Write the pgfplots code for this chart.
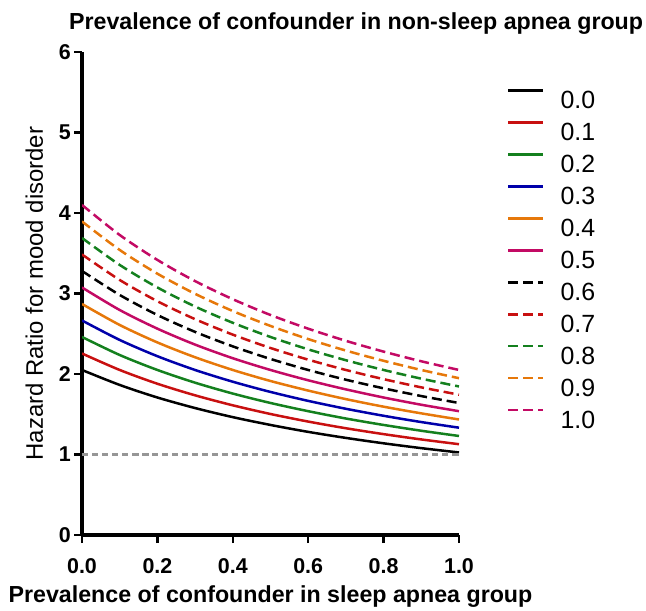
\documentclass[border=0pt]{standalone}
\usepackage{pgfplots}
\pgfplotsset{compat=1.18}
\usepackage{fontspec}
\setmainfont{Liberation Sans}
\definecolor{cRed}{RGB}{200,16,16}
\definecolor{cGreen}{RGB}{20,128,30}
\definecolor{cBlue}{RGB}{0,0,170}
\definecolor{cOrange}{RGB}{230,120,10}
\definecolor{cMag}{RGB}{195,10,100}
\definecolor{cGray}{RGB}{150,150,150}
\begin{document}
\begin{tikzpicture}
\begin{axis}[
  at={(82bp,76bp)}, anchor=south west,
  scale only axis, width=377bp, height=483bp,
  xmin=0, xmax=1, ymin=0, ymax=6,
  axis lines*=left,
  axis line style={line width=3bp},
  tick align=outside,
  major tick length=8bp,
  major tick style={line width=2.5bp, black},
  xtick={0,0.2,0.4,0.6,0.8,1.0},
  ytick={0,1,2,3,4,5,6},
  xticklabels={0.0,0.2,0.4,0.6,0.8,1.0},
  /pgf/number format/assume math mode=true,
  ticklabel style={font=\fontsize{21.5}{26}\selectfont\bfseries},
  xticklabel style={inner sep=1bp, yshift=-14bp},
  yticklabel style={inner sep=1bp, xshift=-2bp},
  title={Prevalence of confounder in non-sleep apnea group},
  title style={at={(rel axis cs:0.727,1)}, anchor=base, yshift=17bp, font=\fontsize{23.3}{27}\selectfont\bfseries},
  xlabel={Prevalence of confounder in sleep apnea group},
  every axis x label/.style={at={(rel axis cs:0.5,0)}, anchor=base, yshift=-67bp, font=\fontsize{23.3}{27}\selectfont\bfseries},
  ylabel={Hazard Ratio for mood disorder},
  every axis y label/.style={at={(rel axis cs:0,0.5)}, xshift=-39bp, rotate=90, anchor=base, font=\fontsize{24}{28}\selectfont},
  legend image code/.code={\draw[#1] (0bp,9bp) -- (35bp,9bp);},
  legend cell align=left,
  legend style={at={(rel axis cs:1.127,0.923)}, anchor=north west, draw=none, fill=none,
    inner sep=0pt, row sep=12.7bp, font=\fontsize{25}{30}\selectfont,
    nodes={inner sep=0pt, text height=18bp, text depth=0pt},
    /tikz/every odd column/.append style={column sep=16bp}},
  every axis plot/.append style={line width=2.5bp, smooth},
]
\addplot[black] coordinates {(0,2.050) (0.1,1.864) (0.2,1.708) (0.3,1.577) (0.4,1.464) (0.5,1.367) (0.6,1.281) (0.7,1.206) (0.8,1.139) (0.9,1.079) (1.0,1.025)};
\addlegendentry{0.0}
\addplot[cRed] coordinates {(0,2.255) (0.1,2.050) (0.2,1.879) (0.3,1.735) (0.4,1.611) (0.5,1.503) (0.6,1.409) (0.7,1.326) (0.8,1.253) (0.9,1.187) (1.0,1.128)};
\addlegendentry{0.1}
\addplot[cGreen] coordinates {(0,2.460) (0.1,2.236) (0.2,2.050) (0.3,1.892) (0.4,1.757) (0.5,1.640) (0.6,1.538) (0.7,1.447) (0.8,1.367) (0.9,1.295) (1.0,1.230)};
\addlegendentry{0.2}
\addplot[cBlue] coordinates {(0,2.665) (0.1,2.423) (0.2,2.221) (0.3,2.050) (0.4,1.904) (0.5,1.777) (0.6,1.666) (0.7,1.568) (0.8,1.481) (0.9,1.403) (1.0,1.333)};
\addlegendentry{0.3}
\addplot[cOrange] coordinates {(0,2.870) (0.1,2.609) (0.2,2.392) (0.3,2.208) (0.4,2.050) (0.5,1.913) (0.6,1.794) (0.7,1.688) (0.8,1.594) (0.9,1.511) (1.0,1.435)};
\addlegendentry{0.4}
\addplot[cMag] coordinates {(0,3.075) (0.1,2.795) (0.2,2.563) (0.3,2.365) (0.4,2.196) (0.5,2.050) (0.6,1.922) (0.7,1.809) (0.8,1.708) (0.9,1.618) (1.0,1.538)};
\addlegendentry{0.5}
\addplot[black, dash pattern=on 10bp off 5bp] coordinates {(0,3.280) (0.1,2.982) (0.2,2.733) (0.3,2.523) (0.4,2.343) (0.5,2.187) (0.6,2.050) (0.7,1.929) (0.8,1.822) (0.9,1.726) (1.0,1.640)};
\addlegendentry{0.6}
\addplot[cRed, dash pattern=on 10bp off 5bp] coordinates {(0,3.485) (0.1,3.168) (0.2,2.904) (0.3,2.681) (0.4,2.489) (0.5,2.323) (0.6,2.178) (0.7,2.050) (0.8,1.936) (0.9,1.834) (1.0,1.743)};
\addlegendentry{0.7}
\addplot[cGreen, dash pattern=on 10bp off 5bp] coordinates {(0,3.690) (0.1,3.355) (0.2,3.075) (0.3,2.838) (0.4,2.636) (0.5,2.460) (0.6,2.306) (0.7,2.171) (0.8,2.050) (0.9,1.942) (1.0,1.845)};
\addlegendentry{0.8}
\addplot[cOrange, dash pattern=on 10bp off 5bp] coordinates {(0,3.895) (0.1,3.541) (0.2,3.246) (0.3,2.996) (0.4,2.782) (0.5,2.597) (0.6,2.434) (0.7,2.291) (0.8,2.164) (0.9,2.050) (1.0,1.948)};
\addlegendentry{0.9}
\addplot[cMag, dash pattern=on 10bp off 5bp] coordinates {(0,4.100) (0.1,3.727) (0.2,3.417) (0.3,3.154) (0.4,2.929) (0.5,2.733) (0.6,2.563) (0.7,2.412) (0.8,2.278) (0.9,2.158) (1.0,2.050)};
\addlegendentry{1.0}
\addplot[cGray, line width=2.5bp, dash pattern=on 6bp off 4bp, forget plot] coordinates {(0,1) (1,1)};
\end{axis}
\pgfresetboundingbox
\useasboundingbox (0,0) rectangle (646bp,611bp);
\end{tikzpicture}
\end{document}
